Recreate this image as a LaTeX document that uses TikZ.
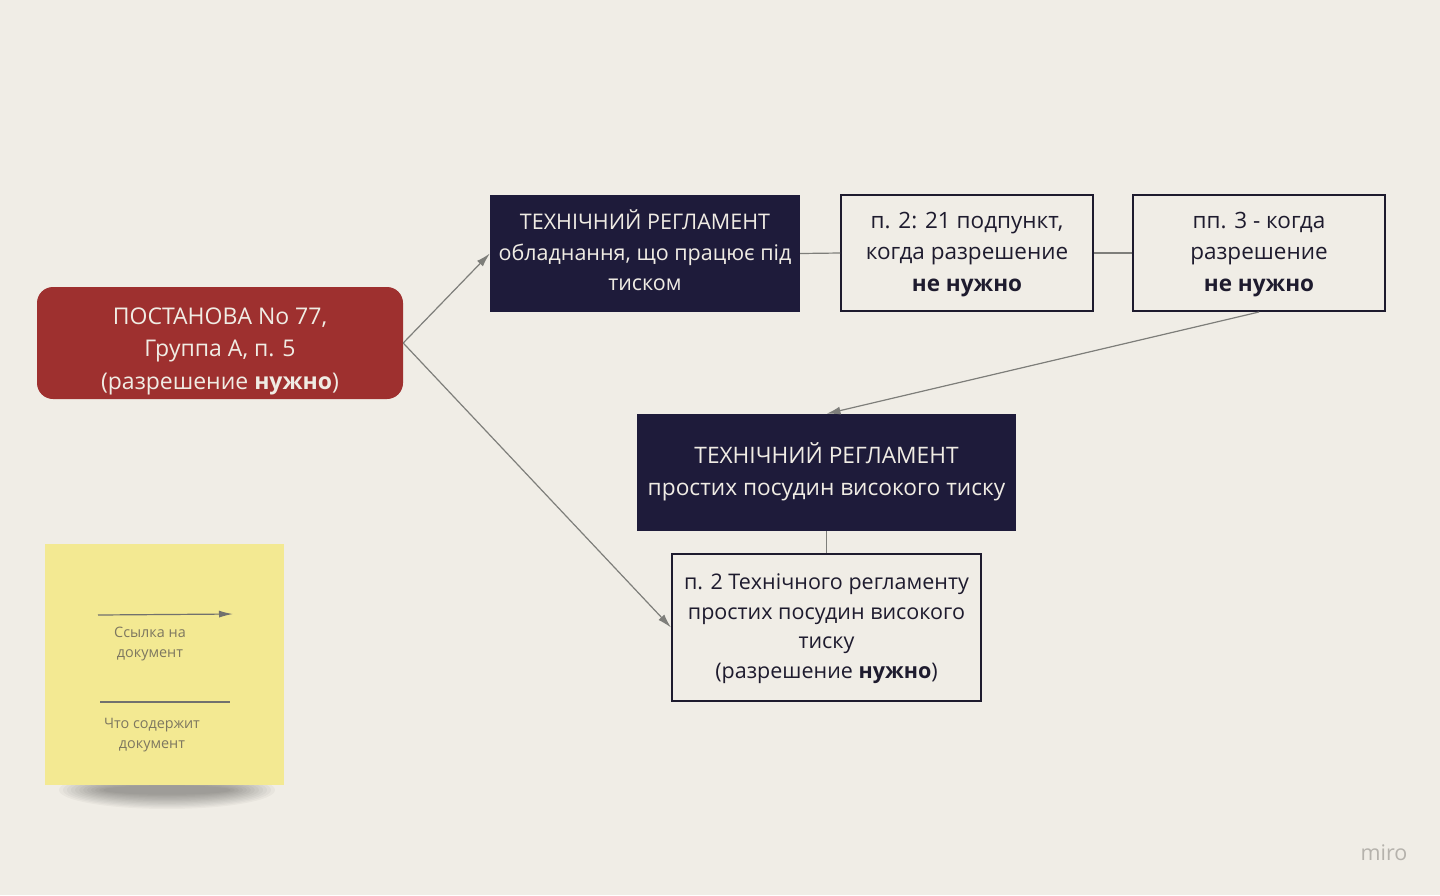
\documentclass[tikz,border=0pt]{standalone}
\usepackage{fontspec}
\setmainfont{Open Sans}
\usetikzlibrary{arrows.meta}
\definecolor{bg}{HTML}{F0EDE6}
\definecolor{redbox}{HTML}{9E302F}
\definecolor{navy}{HTML}{1E1B3A}
\definecolor{lighttext}{HTML}{F0ECE4}
\definecolor{darktext}{HTML}{1E1B2E}
\definecolor{conn}{HTML}{7E7E7A}
\definecolor{sticky}{HTML}{F3E992}
\definecolor{stickytext}{HTML}{7D7760}
\definecolor{mirogray}{HTML}{B5B2AC}
\newcommand{\shiftt}[2]{\raisebox{#1}[\height][\depth]{\begin{tabular}{@{}c@{}}#2\end{tabular}}}
\tikzset{
  base/.style={inner sep=0pt, align=center},
  redstyle/.style={base, fill=redbox, rounded corners=16pt, text=lighttext, minimum width=366pt, minimum height=112pt, font=\fontsize{23}{32.5}\selectfont},
  navystyle/.style={base, fill=navy, text=lighttext},
  whitestyle/.style={base, draw=darktext, line width=2pt, fill=bg, text=darktext},
  arr/.style={draw=conn, line width=1.2pt, -{Latex[length=14pt,width=8pt]}},
  ln/.style={draw=conn, line width=1.2pt},
  stxt/.style={base, text=stickytext, font=\fontsize{14.4}{20.5}\selectfont},
}
\begin{document}
\begin{tikzpicture}[x=1pt,y=-1pt]
\fill[bg] (0,0) rectangle (1440,895);
\useasboundingbox (0,0) rectangle (1440,895);

% sticky shadow
\foreach \i in {0,...,11}{
  \fill[black, opacity=0.032] (167,790) ellipse ({108-4*\i} and {19-1.3*\i});
}
\fill[sticky] (45,544) rectangle (284,785);

\node[redstyle] (red) at (220,343) {\shiftt{-7pt}{ПОСТАНОВА No 77,\\Группа А, п. 5\\(разрешение \textbf{нужно})}};

\node[navystyle, minimum width=310pt, minimum height=117pt, font=\fontsize{21.5}{30.5}\selectfont] (tr1) at (645,253.5) {\shiftt{-0.5pt}{ТЕХНІЧНИЙ РЕГЛАМЕНТ\\обладнання, що працює під\\тиском}};

\node[whitestyle, minimum width=252pt, minimum height=116pt, font=\fontsize{22.5}{31.5}\selectfont] (p2) at (967,253) {\shiftt{-0.5pt}{п. 2: 21 подпункт,\\когда разрешение\\\textbf{не нужно}}};

\node[whitestyle, minimum width=252pt, minimum height=116pt, font=\fontsize{22.5}{31.5}\selectfont] (p3) at (1259,253) {\shiftt{-0.5pt}{пп. 3 - когда\\разрешение\\\textbf{не нужно}}};

\node[navystyle, minimum width=379pt, minimum height=117pt, font=\fontsize{22.7}{32}\selectfont] (tr2) at (826.5,472.5) {\shiftt{-0.5pt}{ТЕХНІЧНИЙ РЕГЛАМЕНТ\\простих посудин високого тиску}};

\node[whitestyle, minimum width=309pt, minimum height=147pt, font=\fontsize{21.5}{29.7}\selectfont] (p4) at (826.5,627.5) {\shiftt{-0.5pt}{п. 2 Технічного регламенту\\простих посудин високого\\тиску\\(разрешение \textbf{нужно})}};

\draw[arr] (red.east) -- (tr1.west);
\draw[arr] (red.east) -- (p4.west);
\draw[ln] (tr1.east) -- (p2.west);
\draw[ln] (p2.east) -- (p3.west);
\draw[arr] (p3.south) -- (tr2.north);
\draw[ln] (tr2.south) -- (p4.north);

% legend on sticky
\coordinate (la1) at (98,615);
\coordinate (la2) at (233,614);
\draw[draw=conn!90!black, line width=1.2pt, -{Latex[length=14pt,width=7pt]}] (la1) -- (la2);
\node[stxt] (lt1) at (150,644) {Ссылка на\\документ};
\coordinate (lb1) at (100,702);
\coordinate (lb2) at (230,702);
\draw[draw=conn!90!black, line width=1.2pt] (lb1) -- (lb2);
\node[stxt] (lt2) at (152,735) {Что содержит\\документ};

\node[base, text=mirogray, font=\fontsize{21.5}{22}\selectfont] (miro) at (1384,853) {miro};
\end{tikzpicture}
\end{document}
